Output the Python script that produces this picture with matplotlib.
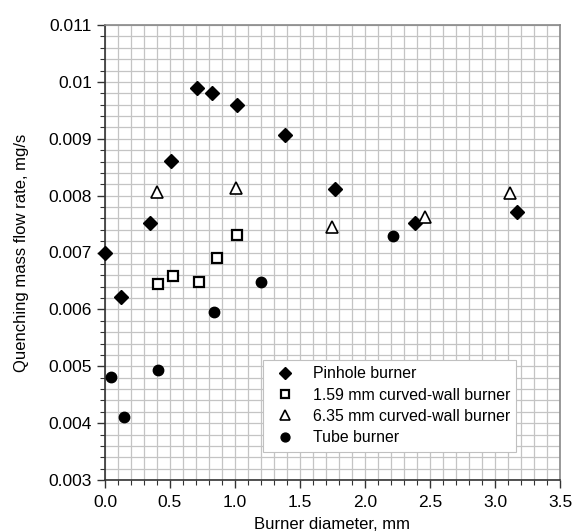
import matplotlib
matplotlib.use('Agg')
import matplotlib.pyplot as plt
from matplotlib.ticker import MultipleLocator

plt.rcParams['font.family'] = ['Liberation Sans', 'DejaVu Sans']

# data
pin_x = [0.0, 0.12, 0.346, 0.508, 0.705, 0.826, 1.013, 1.385, 1.769, 2.385, 3.167]
pin_y = [0.0070, 0.00621, 0.00752, 0.00861, 0.0099, 0.00981, 0.0096, 0.00906, 0.00811, 0.00752, 0.00771]

sq_x = [0.41, 0.526, 0.726, 0.859, 1.013]
sq_y = [0.00644, 0.00658, 0.00649, 0.0069, 0.00731]

tri_x = [0.40, 1.008, 1.744, 2.46, 3.115]
tri_y = [0.00807, 0.00814, 0.00744, 0.00763, 0.00805]

tube_x = [0.046, 0.146, 0.41, 0.841, 1.2, 2.213]
tube_y = [0.00481, 0.0041, 0.00494, 0.00595, 0.00649, 0.00729]

names = ['Pinhole burner', '1.59 mm curved-wall burner',
         '6.35 mm curved-wall burner', 'Tube burner']

xticks = [0.0, 0.5, 1.0, 1.5, 2.0, 2.5, 3.0, 3.5]
xlabels = ['0.0', '0.5', '1.0', '1.5', '2.0', '2.5', '3.0', '3.5']
yticks = [0.003, 0.004, 0.005, 0.006, 0.007, 0.008, 0.009, 0.010, 0.011]
ylabels = ['0.003', '0.004', '0.005', '0.006', '0.007', '0.008', '0.009', '0.01', '0.011']

fig = plt.figure(figsize=(5.75, 5.32), dpi=100)
ax = fig.add_axes([105/575, 1-480/532, 455/575, 455/532])

ax.plot(pin_x, pin_y, 'D', color='black', ms=7, label=names[0], clip_on=False, zorder=5)
ax.plot(sq_x, sq_y, 's', mfc='white', mec='black', mew=1.6, ms=6.5, label=names[1], zorder=5)
ax.plot(tri_x, tri_y, '^', mfc='white', mec='black', mew=1.2, ms=8, label=names[2], zorder=5)
ax.plot(tube_x, tube_y, 'o', color='black', ms=7.5, label=names[3], zorder=5)

ax.set_xlim(0, 3.5)
ax.set_ylim(0.003, 0.011)
ax.set_xticks(xticks)
ax.set_xticklabels(xlabels)
ax.set_yticks(yticks)
ax.set_yticklabels(ylabels)
ax.xaxis.set_minor_locator(MultipleLocator(0.1))
ax.yaxis.set_minor_locator(MultipleLocator(0.0002))
ax.grid(True, which='both', color='#c4c4c4', lw=0.9)
ax.set_axisbelow(True)

ax.tick_params(which='major', direction='out', length=6, width=1, labelsize=12.5, color='#333333')
ax.tick_params(axis='x', which='major', pad=5)
ax.tick_params(which='minor', direction='out', length=3.5, width=0.8, color='#333333')

for s in ['left', 'bottom']:
    ax.spines[s].set_color('#333333')
    ax.spines[s].set_linewidth(1.2)
for s in ['top', 'right']:
    ax.spines[s].set_color('#888888')
    ax.spines[s].set_linewidth(1.2)

ax.set_xlabel('Burner diameter, mm', fontsize=12)
ax.xaxis.set_label_coords(0.5, -0.082)
ax.set_ylabel('Quenching mass flow rate, mg/s', fontsize=12, labelpad=14)

leg = ax.legend(loc='upper left', bbox_to_anchor=(0.347, 0.264), fontsize=11.4,
                frameon=True, fancybox=False, framealpha=1, edgecolor='#c0c0c0',
                borderaxespad=0, handletextpad=0.75, labelspacing=0.4,
                handlelength=2.0, borderpad=0.4, markerscale=0.85)
leg.get_frame().set_linewidth(0.8)

fig.savefig('out.png', dpi=100)
